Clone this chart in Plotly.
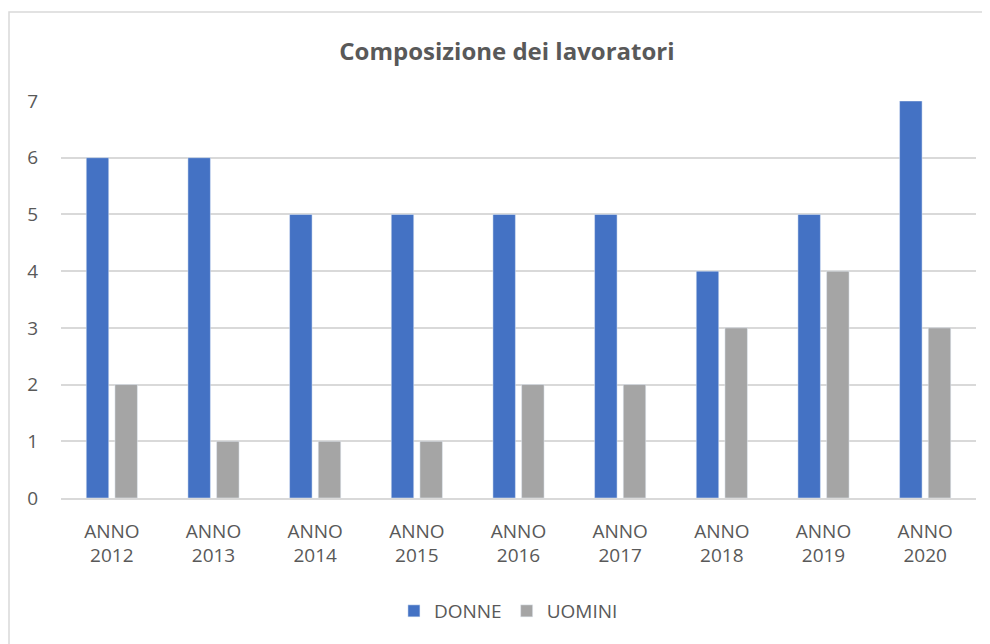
import plotly.graph_objects as go

categories = ["ANNO<br>2012", "ANNO<br>2013", "ANNO<br>2014", "ANNO<br>2015", "ANNO<br>2016",
              "ANNO<br>2017", "ANNO<br>2018", "ANNO<br>2019", "ANNO<br>2020"]
donne = [6, 6, 5, 5, 5, 5, 4, 5, 7]
uomini = [2, 1, 1, 1, 2, 2, 3, 4, 3]

font_txt = "Open Sans, Liberation Sans, sans-serif"
grey_txt = "#595959"

fig = go.Figure()
fig.add_trace(go.Bar(x=categories, y=donne, name="DONNE", marker_color="#4472C4"))
fig.add_trace(go.Bar(x=categories, y=uomini, name="UOMINI", marker_color="#A5A5A5"))

# page has 8px body margin; plot area in figure coords: x 53..968, y 93..490
fig.update_layout(
    width=990, height=644,
    margin=dict(l=53, r=22, t=93, b=154),
    paper_bgcolor="white", plot_bgcolor="white",
    barmode="group", bargap=0.436, bargroupgap=0.216,
    title=dict(text="<b>Composizione dei lavoratori</b>", x=0.504, xanchor="center",
               y=1 - 44 / 644, yanchor="middle",
               font=dict(family=font_txt, size=24, color=grey_txt)),
    font=dict(family=font_txt, size=19, color=grey_txt),
    legend=dict(orientation="h", x=0.489, xanchor="center", y=(490 - 603) / 397, yanchor="middle",
                font=dict(size=19, color=grey_txt), itemwidth=30, traceorder="normal"),
    showlegend=True,
)
fig.update_xaxes(showgrid=False, showline=True, linecolor="#D9D9D9", linewidth=1.5,
                 ticks="", tickfont=dict(size=19, color=grey_txt), ticklabelstandoff=15)
fig.update_yaxes(range=[0, 7], dtick=1, showgrid=True, gridcolor="#D9D9D9", gridwidth=1.5,
                 zeroline=False, showline=False, ticks="",
                 tickfont=dict(size=19, color=grey_txt), ticklabelstandoff=22)

# chart border (Excel chart area)
fig.add_shape(type="rect", xref="paper", yref="paper",
              x0=(1 - 53) / 915, x1=1.2, y0=-0.5, y1=(490 - 4) / 397,
              line=dict(color="#D9D9D9", width=1.5), fillcolor="rgba(0,0,0,0)", layer="below")

fig.write_html("out.html")
